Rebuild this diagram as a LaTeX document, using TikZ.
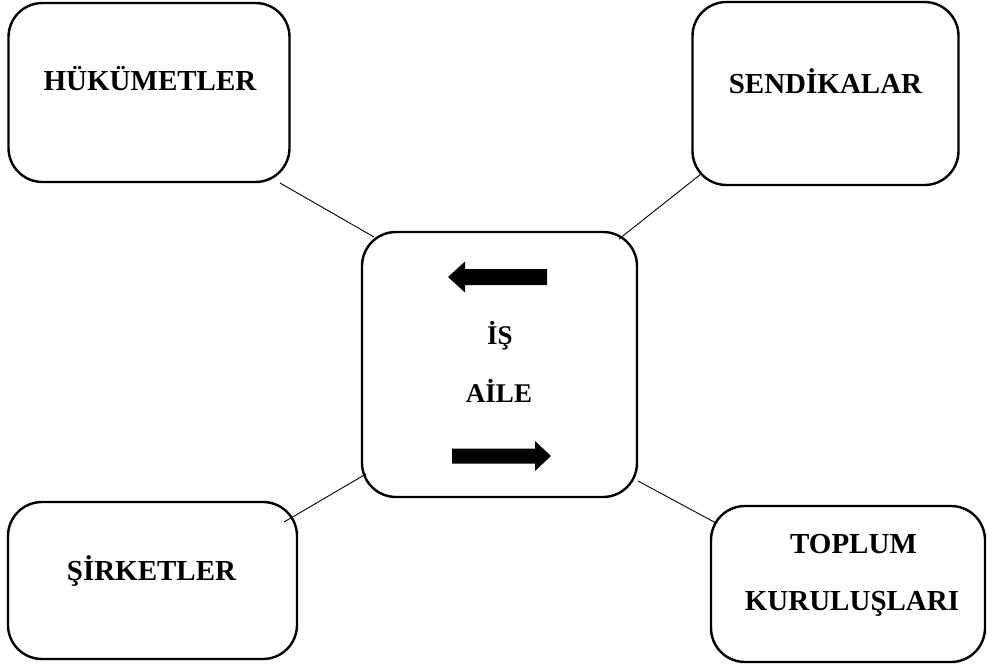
\documentclass[tikz,border=0pt]{standalone}
\usepackage{fontspec}
\setmainfont{Liberation Serif}
\begin{document}
\begin{tikzpicture}[x=1pt,y=-1pt,
  box/.style={draw,line width=2.4pt,rounded corners=34pt,inner sep=0pt},
  lbl/.style={font=\fontsize{29}{32}\selectfont\bfseries,inner sep=0pt,anchor=base},
  clbl/.style={font=\fontsize{27}{30}\selectfont\bfseries,inner sep=0pt,anchor=base},
  conn/.style={line width=0.9pt}]
\useasboundingbox (0,0) rectangle (987,668);
% boxes
\node[box,minimum width=281pt,minimum height=179pt] (hk) at (149,92.5) {};
\node[box,minimum width=266pt,minimum height=183pt] (sd) at (825.5,93.5) {};
\node[box,minimum width=275pt,minimum height=265pt] (ie) at (499.5,364.5) {};
\node[box,minimum width=289pt,minimum height=157pt] (sk) at (152.5,580.5) {};
\node[box,minimum width=274pt,minimum height=156pt] (tk) at (848,584) {};
% labels
\node[lbl] (hkt) at (150,91) {HÜKÜMETLER};
\node[lbl] (sdt) at (825.5,94) {SENDİKALAR};
\node[lbl] (skt) at (151.5,580) {ŞİRKETLER};
\node[lbl] (tkt1) at (853.5,553) {TOPLUM};
\node[lbl] (tkt2) at (852,610) {KURULUŞLARI};
\node[clbl] (is) at (500,344) {İŞ};
\node[clbl] (ai) at (499,402) {AİLE};
% arrows
\fill (547,269) -- (465,269) -- (465,261.5) -- (448,277) -- (465,292.5) -- (465,285) -- (547,285) -- cycle;
\fill (452,448.5) -- (535,448.5) -- (535,441) -- (551,456) -- (535,471) -- (535,463.5) -- (452,463.5) -- cycle;
% connectors
\coordinate (c1) at (280,183);
\coordinate (c2) at (374,237);
\coordinate (c3) at (701,174);
\coordinate (c4) at (619,239);
\coordinate (c5) at (366,474);
\coordinate (c6) at (284,522);
\coordinate (c7) at (638,481);
\coordinate (c8) at (716,523);
\draw[conn] (c1) -- (c2);
\draw[conn] (c3) -- (c4);
\draw[conn] (c5) -- (c6);
\draw[conn] (c7) -- (c8);
\end{tikzpicture}
\end{document}
